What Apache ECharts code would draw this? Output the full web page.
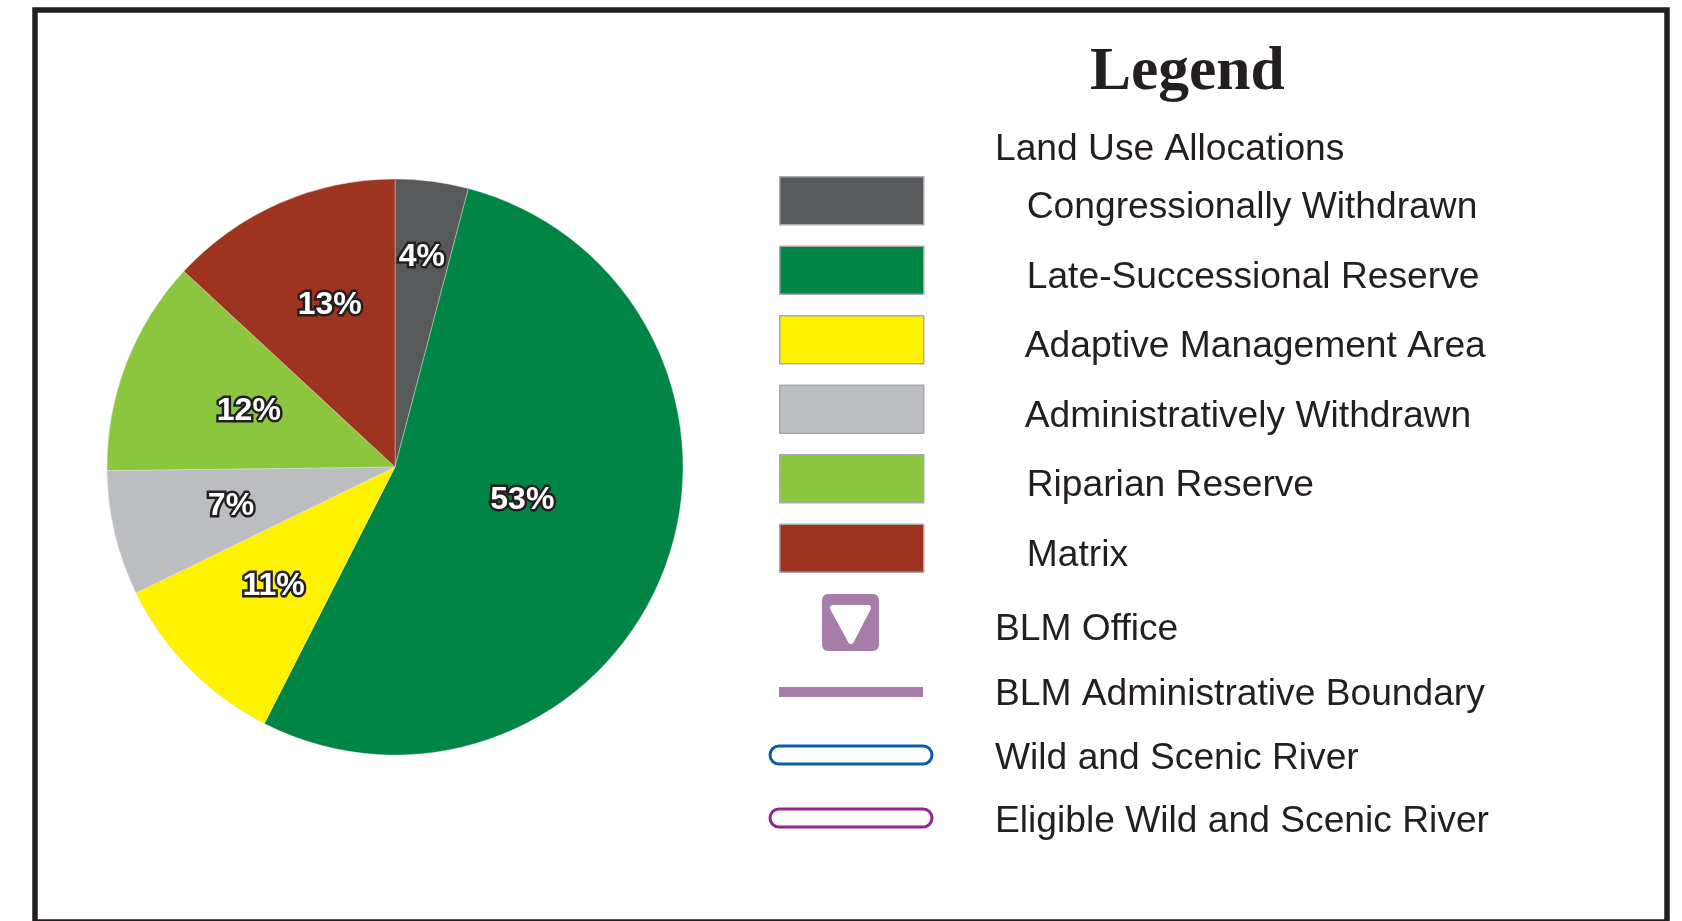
<!DOCTYPE html>
<html>
<head>
<meta charset="utf-8">
<title>Land Use Allocations</title>
<script src="https://cdn.jsdelivr.net/npm/echarts@6/dist/echarts.min.js"></script>
<style>
  html, body { margin: 0; padding: 0; background: #fff; }
  #chart { width: 1682px; height: 921px; }
</style>
</head>
<body>
<div id="chart"></div>
<script>
const categories = ['Congressionally Withdrawn', 'Late-Successional Reserve', 'Adaptive Management Area',
    'Administratively Withdrawn', 'Riparian Reserve', 'Matrix'];
// slice sizes, the printed labels are kept apart
const shares = [4.1, 53.4, 10.3, 7.0, 12.1, 13.1];
const shareLabels = ['4%', '53%', '11%', '7%', '12%', '13%'];
const colors = ['#58595b', '#008545', '#fff200', '#bbbdc0', '#8cc63f', '#9e3420'];
// nudges from the default inside position of each pie label
const labelOffsets = [[8, -64], [-10, -19], [-16.5, 16.5], [-21, 5], [-9, -3.5], [-6.5, -27.5]];
// rich text style per legend row, the reference does not line them up exactly
const legendRowStyle = ['wide', 'wide', 'narrow', 'narrow', 'wide', 'wide'];
const otherLabels = ['BLM Office', 'BLM Administrative Boundary', 'Wild and Scenic River', 'Eligible Wild and Scenic River'];
const otherRows = [630, 694.5, 758.5, 822];

const textColor = '#231f20';
const sans = '"Liberation Sans", Arial, sans-serif';
const purple = '#a67ca8';

const chart = echarts.init(document.getElementById('chart'));

function rowText(text, y) {
    return {
        type: 'text',
        x: 995,
        y: y,
        silent: true,
        style: { text: text, fill: textColor, font: '37.2px ' + sans, textVerticalAlign: 'middle' }
    };
}

function legendRich(left) {
    return { fontFamily: sans, fontSize: 37.2, lineHeight: 30, color: textColor, padding: [15, 0, 0, left] };
}

chart.setOption({
    animation: false,
    backgroundColor: '#fff',
    title: {
        text: 'Legend',
        left: 1090,
        top: 42,
        padding: 0,
        textStyle: { fontFamily: '"Liberation Serif", serif', fontWeight: 'bold', fontSize: 61.5, color: textColor }
    },
    legend: {
        orient: 'vertical',
        left: 779,
        top: 174.7,
        padding: 0,
        itemWidth: 144,
        itemHeight: 48,
        itemGap: 17.5,
        icon: 'rect',
        selectedMode: false,
        itemStyle: { borderColor: '#a7a9ac', borderWidth: 1.5 },
        formatter: name => '{' + legendRowStyle[categories.indexOf(name)] + '|' + name + '}',
        textStyle: {
            rich: { wide: legendRich(98), narrow: legendRich(96) }
        },
        data: categories
    },
    series: [{
        type: 'pie',
        center: [395, 467],
        radius: 288,
        startAngle: 90,
        silent: true,
        avoidLabelOverlap: false,
        itemStyle: { borderColor: '#e6e6e6', borderWidth: 0.4 },
        labelLine: { show: false },
        label: {
            show: true,
            position: 'inside',
            formatter: p => shareLabels[p.dataIndex],
            fontFamily: sans,
            fontWeight: 'bold',
            fontSize: 32,
            color: '#fff',
            textBorderColor: textColor,
            textBorderWidth: 5
        },
        data: categories.map((name, i) => ({
            name: name,
            value: shares[i],
            itemStyle: { color: colors[i] },
            label: { offset: labelOffsets[i] }
        }))
    }],
    graphic: [
        // outer frame, cut off by the bottom of the page
        {
            type: 'rect',
            silent: true,
            shape: { x: 35, y: 10, width: 1632, height: 912 },
            style: { fill: 'none', stroke: textColor, lineWidth: 5.5 }
        },
        rowText('Land Use Allocations', 149.5),
        ...otherLabels.map((t, i) => rowText(t, otherRows[i])),
        // BLM office symbol
        {
            type: 'rect',
            silent: true,
            shape: { x: 822, y: 594, width: 57, height: 57, r: 6 },
            style: { fill: purple }
        },
        {
            type: 'polygon',
            silent: true,
            shape: { points: [[833, 608], [868, 608], [851, 641]] },
            style: { fill: '#fff', stroke: '#fff', lineWidth: 6, lineJoin: 'round' }
        },
        // BLM boundary bar
        {
            type: 'rect',
            silent: true,
            shape: { x: 779, y: 687, width: 144, height: 10 },
            style: { fill: purple }
        },
        // river capsules
        {
            type: 'rect',
            silent: true,
            shape: { x: 770, y: 746, width: 162, height: 18, r: 9 },
            style: { fill: '#fff', stroke: '#0a5dab', lineWidth: 3 }
        },
        {
            type: 'rect',
            silent: true,
            shape: { x: 770, y: 809, width: 162, height: 18, r: 9 },
            style: { fill: '#fff', stroke: '#93278f', lineWidth: 3 }
        }
    ]
});

window.addEventListener('resize', () => {
    chart.resize();
});
</script>
</body>
</html>
